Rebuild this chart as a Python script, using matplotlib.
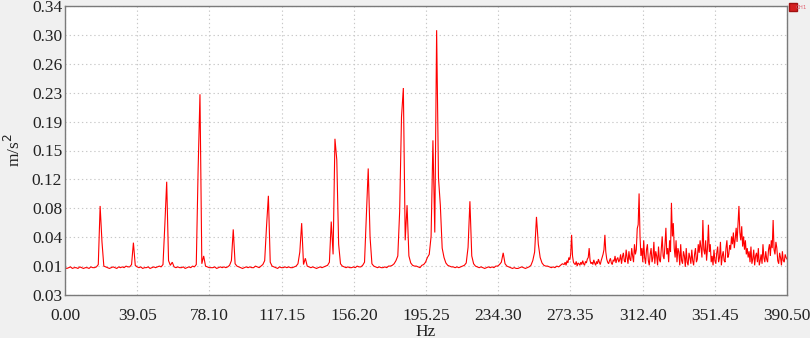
import numpy as np
import matplotlib
matplotlib.use("Agg")
import matplotlib.pyplot as plt
from matplotlib.lines import Line2D

# low band: amplitude in 1e-3 m/s^2, one value per Hz from 0 to 269
low_amp_milli = [
    5, 4, 5, 6, 4, 5, 5, 4, 6, 5,
    4, 5, 5, 4, 6, 5, 5, 6, 9, 84,
    38, 7, 6, 5, 4, 5, 6, 5, 4, 6,
    5, 6, 5, 7, 6, 6, 9, 37, 8, 6,
    5, 6, 4, 5, 5, 6, 4, 5, 6, 5,
    6, 7, 6, 9, 60, 115, 14, 8, 12, 6,
    5, 6, 5, 5, 6, 4, 5, 6, 5, 7,
    6, 9, 131, 227, 10, 20, 7, 6, 5, 5,
    5, 6, 4, 5, 6, 5, 6, 5, 6, 8,
    14, 54, 10, 7, 6, 5, 4, 5, 6, 5,
    6, 5, 5, 7, 6, 5, 7, 9, 14, 58,
    97, 12, 7, 6, 5, 4, 6, 5, 5, 6,
    5, 6, 5, 5, 6, 7, 10, 25, 62, 9,
    17, 7, 6, 5, 6, 5, 4, 5, 6, 5,
    6, 7, 8, 12, 64, 22, 170, 143, 35, 10,
    7, 6, 5, 6, 5, 5, 6, 5, 7, 6,
    6, 8, 12, 73, 132, 44, 10, 7, 6, 5,
    6, 5, 5, 6, 5, 7, 7, 8, 10, 14,
    20, 77, 198, 235, 40, 85, 20, 11, 8, 7,
    7, 6, 5, 8, 9, 12, 18, 22, 45, 168,
    50, 309, 120, 85, 30, 18, 11, 8, 7, 6,
    6, 5, 6, 5, 6, 7, 8, 11, 31, 90,
    20, 10, 7, 6, 5, 6, 5, 4, 5, 6,
    5, 6, 5, 7, 7, 9, 12, 24, 10, 7,
    6, 5, 4, 5, 4, 4, 5, 6, 5, 4,
    5, 6, 8, 14, 25, 70, 35, 18, 11, 8,
    7, 7, 6, 5, 6, 5, 7, 6, 8, 10,
]

# high band: amplitude in 1e-3 m/s^2, two values per Hz from 270.0 to 390.5
high_amp_milli = [
    9, 12, 8, 14, 11, 18, 15, 22, 47, 20,      # 270-274
    12, 10, 9, 13, 7, 11, 10, 8, 12, 9,        # 275-279
    14, 10, 8, 13, 11, 16, 18, 30, 14, 10,     # 280-284
    12, 9, 15, 11, 8, 13, 10, 16, 12, 9,       # 285-289
    14, 18, 22, 28, 47, 25, 16, 12, 10, 14,    # 290-294
    17, 11, 9, 15, 13, 20, 11, 16, 18, 12,     # 295-299
    15, 22, 10, 19, 24, 14, 12, 28, 18, 10,    # 300-304
    26, 16, 14, 30, 20, 12, 35, 22, 28, 55,    # 305-309
    60, 100, 45, 20, 30, 12, 40, 18, 10, 28,   # 310-314
    35, 14, 8, 22, 30, 12, 18, 38, 10, 26,     # 315-319
    20, 8, 32, 15, 12, 28, 45, 20, 16, 34,     # 320-324
    56, 22, 30, 12, 40, 25, 88, 45, 62, 30,    # 325-329
    18, 40, 12, 30, 25, 8, 35, 14, 10, 26,     # 330-334
    20, 6, 30, 12, 8, 24, 18, 10, 28, 14,      # 335-339
    8, 22, 30, 12, 16, 35, 24, 40, 30, 18,     # 340-344
    66, 28, 22, 40, 14, 30, 60, 25, 35, 12,    # 345-349
    20, 8, 28, 14, 10, 24, 32, 12, 18, 38,     # 350-354
    8, 20, 26, 14, 12, 30, 40, 18, 22, 34,     # 355-359
    28, 45, 35, 50, 30, 42, 56, 38, 62, 84,    # 360-364
    50, 40, 58, 32, 45, 28, 40, 22, 30, 18,    # 365-369
    26, 12, 32, 10, 16, 28, 8, 20, 24, 12,     # 370-374
    30, 8, 14, 22, 10, 35, 18, 12, 26, 16,     # 375-379
    12, 28, 35, 20, 40, 30, 66, 28, 22, 38,    # 380-384
    30, 14, 10, 24, 18, 8, 26, 14, 12, 22,     # 385-389
    18, 16,                                    # 390
]

low_freq = np.arange(len(low_amp_milli)) * 1.0
high_freq = 270.0 + 0.5 * np.arange(len(high_amp_milli))
freq_hz = np.concatenate([low_freq, high_freq])
amplitude = np.concatenate([low_amp_milli, high_amp_milli]) / 1000.0

x_tick_labels = ["0.00", "39.05", "78.10", "117.15", "156.20", "195.25",
                 "234.30", "273.35", "312.40", "351.45", "390.50"]
y_tick_labels = ["0.03", "0.01", "0.04", "0.08", "0.12", "0.15",
                 "0.19", "0.23", "0.26", "0.30", "0.34"]

BG = "#f0f0f0"
font = "Liberation Serif"

fig = plt.figure(figsize=(8.10, 3.38), dpi=100, facecolor=BG)
ax = fig.add_axes([65 / 810, 1 - 295 / 338, (787 - 65) / 810, (295 - 6) / 338])
ax.set_facecolor("white")

ax.plot(freq_hz, amplitude, color="#ff0000", lw=0.8, solid_joinstyle="miter")

ax.set_xlim(0, 390.5)
ax.set_ylim(-0.03, 0.34)
ax.set_xticks(np.linspace(0, 390.5, 11))
ax.set_xticklabels(x_tick_labels)
ax.set_yticks(np.linspace(-0.03, 0.34, 11))
ax.set_yticklabels(y_tick_labels)

ax.tick_params(axis="both", length=0, labelsize=12.5, colors="#222222")
ax.tick_params(axis="x", pad=9)
ax.tick_params(axis="y", pad=2)
for lab in ax.get_xticklabels() + ax.get_yticklabels():
    lab.set_fontfamily(font)

ax.grid(True, color="#c8c8c8", lw=0.8, linestyle=(0, (1.2, 2.5)))
ax.set_axisbelow(True)
for s in ax.spines.values():
    s.set_color("#7a7a7a")
    s.set_linewidth(1.0)

ax.set_xlabel("Hz", fontfamily=font, fontsize=12.5, color="#222222", labelpad=0)
ax.set_ylabel("m/s$^2$", fontfamily=font, fontsize=12.5, color="#222222", labelpad=6)

handle = Line2D([], [], marker="s", color="#d42020", markersize=6, lw=0,
                markeredgecolor="#a01010")
leg = fig.legend([handle], ["CH1"], loc="upper left",
                 bbox_to_anchor=(788 / 810, 1 - 2 / 338), frameon=False,
                 fontsize=4, handlelength=0.6, handletextpad=0.15,
                 borderpad=0.1, labelcolor="#e06070")

fig.savefig("out.png", dpi=100, facecolor=BG)
